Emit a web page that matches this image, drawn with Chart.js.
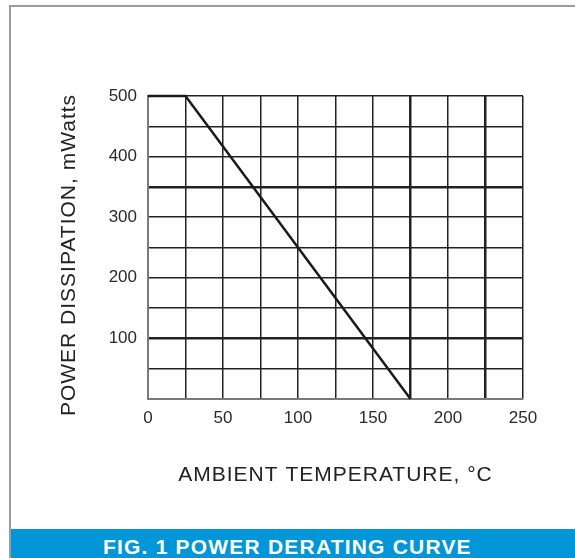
<!DOCTYPE html>
<html>
<head>
<meta charset="utf-8">
<script src="https://cdn.jsdelivr.net/npm/chart.js@4"></script>
<style>
  body { margin: 0; background: #fff; }
  #frame { position: absolute; left: 9px; top: 5px; width: 566px; height: 553px;
           border-top: 2px solid #9c9c9c; border-left: 2px solid #9c9c9c; }
  #chart { position: absolute; left: 0; top: 0; }
  #banner { position: absolute; left: 11px; top: 529px; width: 564px; height: 29px;
            background: #0096d7; color: #fff; font: bold 21px "Liberation Sans", Arial, sans-serif;
            letter-spacing: 1.2px; line-height: 29px; overflow: hidden; }
  #banner span { position: absolute; left: 92px; top: 3px; white-space: nowrap; }
</style>
</head>
<body>
<div id="frame"></div>
<canvas id="chart" width="575" height="529"></canvas>
<div id="banner"><span>FIG. 1 POWER DERATING CURVE</span></div>
<script>
// Derating curve points (temperature in °C, power in mW)
const temps = [0, 25, 175];
const power = [500, 500, 0];
const xTicks = [0, 50, 100, 150, 200, 250];
const yTicks = [100, 200, 300, 400, 500];
const xTitle = 'AMBIENT TEMPERATURE, °C';
const yTitle = 'POWER DISSIPATION, mWatts';

// lines drawn a bit heavier in the original scan
const heavyX = [175, 225];
const heavyY = [350, 100];

const FONT = '"Liberation Sans", Arial, sans-serif';

// Axis titles drawn straight on the canvas
const axisTitles = {
    id: 'axisTitles',
    afterDraw(chart) {
        const ctx = chart.ctx;
        const area = chart.chartArea;
        ctx.save();
        ctx.fillStyle = '#222';
        ctx.font = '21px ' + FONT;
        ctx.letterSpacing = '1px';
        ctx.textAlign = 'center';
        ctx.textBaseline = 'alphabetic';
        ctx.fillText(xTitle, (area.left + area.right) / 2, 481);
        ctx.translate(75, 255);
        ctx.rotate(-Math.PI / 2);
        ctx.fillText(yTitle, 0, 0);
        ctx.restore();
    }
};

const ctx = document.getElementById('chart').getContext('2d');
const chart = new Chart(ctx, {
    type: 'line',
    data: {
        datasets: [{
            data: temps.map((t, i) => ({ x: t, y: power[i] })),
            borderColor: '#1a1a1a',
            borderWidth: 2.5,
            pointRadius: 0,
            tension: 0,
            clip: 5
        }]
    },
    options: {
        responsive: false,
        animation: false,
        layout: { padding: { top: 96, right: 52, left: 0, bottom: 0 } },
        plugins: { legend: { display: false }, tooltip: { enabled: false } },
        scales: {
            x: {
                type: 'linear',
                min: 0,
                max: 250,
                afterFit: s => { s.height = 130; },
                border: { color: '#7a7a7a', width: 2 },
                grid: {
                    drawTicks: false,
                    color: '#222',
                    lineWidth: c => heavyX.includes(c.tick.value) ? 2.5 : 1.5
                },
                ticks: {
                    stepSize: 25,
                    padding: 9,
                    color: '#2a2a2a',
                    font: { family: FONT, size: 17 },
                    maxRotation: 0,
                    autoSkip: false,
                    callback: v => xTicks.includes(v) ? String(v) : ''
                }
            },
            y: {
                min: 0,
                max: 500,
                afterFit: s => { s.width = 148; },
                border: { color: '#7a7a7a', width: 2 },
                grid: {
                    drawTicks: false,
                    color: '#222',
                    lineWidth: c => heavyY.includes(c.tick.value) ? 2.5 : 1.5
                },
                ticks: {
                    stepSize: 50,
                    padding: 11,
                    color: '#2a2a2a',
                    font: { family: FONT, size: 17 },
                    autoSkip: false,
                    callback: v => yTicks.includes(v) ? String(v) : ''
                }
            }
        }
    },
    plugins: [axisTitles]
});
</script>
</body>
</html>
